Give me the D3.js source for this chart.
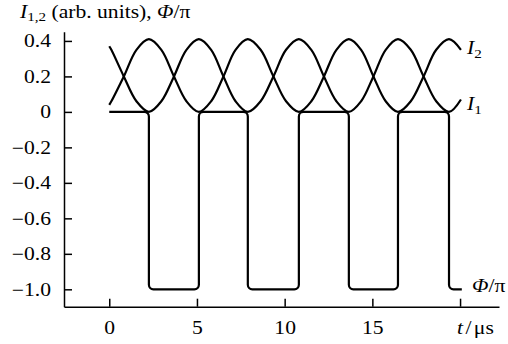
<!DOCTYPE html>
<html>
<head>
<meta charset="utf-8">
<script src="https://cdn.jsdelivr.net/npm/d3@7"></script>
<style>
  html, body { margin: 0; padding: 0; background: #fff; }
  svg { display: block; }
  svg text { font-family: "Liberation Serif", "Times New Roman", serif; fill: #000; }
</style>
</head>
<body>
<svg id="chart" width="508" height="344"></svg>
<script>
// Sample times (µs) for the two intensity traces
const times = [0, 0.12, 0.83, 1.55, 2.26, 2.97, 3.69, 4.40, 5.11, 5.81, 6.51, 7.20, 7.90,
  8.63, 9.36, 10.08, 10.81, 11.52, 12.24, 12.95, 13.66, 14.36, 15.06, 15.76, 16.46,
  17.19, 17.92, 18.64, 19.37, 20.05];
// Intensity I1 (arb. units)
const i1Values = [0.37, 0.35, 0.20, 0.06, 0.00, 0.06, 0.20, 0.35, 0.41, 0.35, 0.20, 0.06, 0.00,
  0.06, 0.20, 0.35, 0.41, 0.35, 0.20, 0.06, 0.00, 0.06, 0.20, 0.35, 0.41,
  0.35, 0.20, 0.06, 0.00, 0.07];
// Intensity I2 (arb. units)
const i2Values = [0.04, 0.06, 0.20, 0.35, 0.41, 0.35, 0.20, 0.06, 0.00, 0.06, 0.20, 0.35, 0.41,
  0.35, 0.20, 0.06, 0.00, 0.06, 0.20, 0.35, 0.41, 0.35, 0.20, 0.06, 0.00,
  0.06, 0.20, 0.35, 0.41, 0.35];
// Phase Φ/π: switching times (µs, including start and end) and level held in each interval
const phaseTimes = [0, 2.26, 5.11, 7.90, 10.81, 13.66, 16.46, 19.37, 20.1];
const phaseLevels = [0, -1, 0, -1, 0, -1, 0, -1];

// Axis ticks
const xTicks = [0, 5, 10, 15, 20];
const xTickLabels = ["0", "5", "10", "15", ""];
const yTicks = [0.4, 0.2, 0, -0.2, -0.4, -0.6, -0.8, -1.0];
const yTickLabels = ["0.4", "0.2", "0", "\u22120.2", "\u22120.4", "\u22120.6", "\u22120.8", "\u22121.0"];

const svg = d3.select("#chart");
const fontSize = 18;
const stretch = 1.2;          // type is set slightly wide
const serif = "'Liberation Serif', 'Times New Roman', serif";

const x = d3.scaleLinear().domain([-2.58, 22.22]).range([64, 499]);
const y = d3.scaleLinear().domain([-1.098, 0.452]).range([306.7, 31.7]);

// Axes with inward ticks
const xAxis = d3.axisBottom(x)
  .tickValues(xTicks)
  .tickFormat((d, i) => xTickLabels[i])
  .tickSizeInner(-8).tickSizeOuter(0).tickPadding(14.5);
const yAxis = d3.axisLeft(y)
  .tickValues(yTicks)
  .tickFormat((d, i) => yTickLabels[i])
  .tickSizeInner(-8).tickSizeOuter(0).tickPadding(13 / stretch);

const gx = svg.append("g").attr("transform", `translate(0,${y.range()[0]})`).call(xAxis);
const gy = svg.append("g").attr("transform", `translate(${x.range()[0]},0)`).call(yAxis);
[gx, gy].forEach(g => {
  g.attr("font-family", serif).attr("font-size", fontSize);
  g.selectAll("path, line").attr("stroke", "#000").attr("stroke-width", 1.5);
  g.selectAll("text")
    .attr("font-size", fontSize)
    .attr("font-family", serif)
    .attr("transform", `scale(${stretch},1)`);
});

// Intensity traces
const line = d3.line()
  .x((d, i) => x(times[i]))
  .y(d => y(d))
  .curve(d3.curveCatmullRom.alpha(0.5));

[i1Values, i2Values].forEach(vals => {
  svg.append("path")
    .attr("d", line(vals))
    .attr("fill", "none")
    .attr("stroke", "#000")
    .attr("stroke-width", 2.2);
});

// Phase square wave with rounded corners
const corners = [];
phaseLevels.forEach((lv, i) => {
  corners.push([x(phaseTimes[i]), y(lv)]);
  corners.push([x(phaseTimes[i + 1]), y(lv)]);
});
const p = d3.path();
p.moveTo(corners[0][0], corners[0][1]);
for (let i = 1; i < corners.length - 1; i++) {
  p.arcTo(corners[i][0], corners[i][1], corners[i + 1][0], corners[i + 1][1], 4.5);
}
p.lineTo(corners[corners.length - 1][0], corners[corners.length - 1][1]);
svg.append("path")
  .attr("d", p.toString())
  .attr("fill", "none")
  .attr("stroke", "#000")
  .attr("stroke-width", 2.2);

// Axis titles and series labels
function label(px, py) {
  return svg.append("text")
    .attr("transform", `translate(${px},${py}) scale(${stretch},1)`)
    .attr("font-size", fontSize).attr("font-family", serif);
}
const title = label(20, 17.5);
title.append("tspan").attr("font-style", "italic").text("I");
title.append("tspan").attr("font-size", fontSize * 0.7).attr("dy", 3.5).text("1,2");
title.append("tspan").attr("dy", -3.5).text(" (arb. units), ");
title.append("tspan").attr("font-style", "italic").text("\u03A6");
title.append("tspan").text("/\u03C0");

const xt = label(457, 334);
xt.append("tspan").attr("font-style", "italic").text("t");
xt.append("tspan").attr("dx", 2).text("/");
xt.append("tspan").attr("dx", 2).text("\u03BCs");

function seriesLabel(px, py, sub) {
  const t = label(px, py);
  t.append("tspan").attr("font-style", "italic").text("I");
  t.append("tspan").attr("font-size", fontSize * 0.7).attr("dy", 3.5).text(sub);
}
seriesLabel(467, 54, "2");
seriesLabel(467, 110, "1");

const ph = label(472, 292);
ph.append("tspan").attr("font-style", "italic").text("\u03A6");
ph.append("tspan").text("/\u03C0");
</script>
</body>
</html>
